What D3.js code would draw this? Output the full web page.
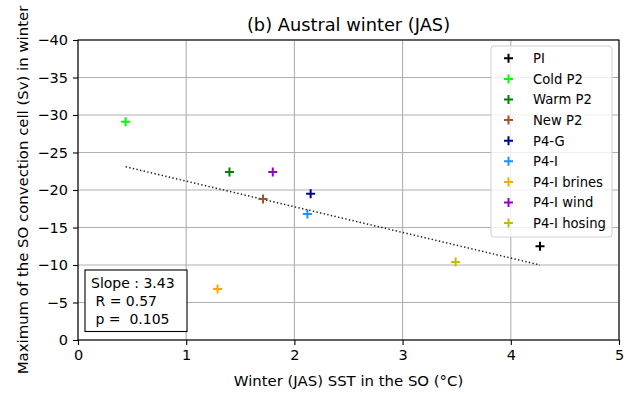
<!DOCTYPE html>
<html><head><meta charset="utf-8">
<script src="https://cdn.jsdelivr.net/npm/d3@7"></script>
<style>body{margin:0;background:#fff}svg{font-family:"DejaVu Sans",sans-serif}</style>
</head><body><svg id="c" width="635" height="394"></svg>
<script>
const names = ["PI","Cold P2","Warm P2","New P2","P4-G","P4-I","P4-I brines","P4-I wind","P4-I hosing"];
const colors = ["#000000","#00ff00","#008000","#a0522d","#00008b","#1e90ff","#ffa500","#9400d3","#bfbf00"];
const sst = [4.27, 0.44, 1.40, 1.71, 2.15, 2.12, 1.29, 1.80, 3.49];
const cell = [-12.5, -29.1, -22.4, -18.8, -19.5, -16.8, -6.8, -22.4, -10.4];
const xTicks = [0,1,2,3,4,5];
const yTicks = [0,-5,-10,-15,-20,-25,-30,-35,-40];
const fitLine = [[0.44, -23.1],[4.27, -10.0]];
const statsText = ["Slope : 3.43"," R = 0.57"," p =  0.105"];

const svg = d3.select("#c");
const L=78,R=619,T=40,B=340;
const x = d3.scaleLinear().domain([0,5]).range([L,R]);
const y = d3.scaleLinear().domain([0,-40]).range([B,T]);

// grid
svg.append("g").selectAll("line").data(xTicks).join("line")
  .attr("x1",d=>x(d)).attr("x2",d=>x(d)).attr("y1",T).attr("y2",B)
  .attr("stroke","#b0b0b0").attr("stroke-width",1.1);
svg.append("g").selectAll("line").data(yTicks).join("line")
  .attr("y1",d=>y(d)).attr("y2",d=>y(d)).attr("x1",L).attr("x2",R)
  .attr("stroke","#b0b0b0").attr("stroke-width",1.1);

// axes
const xa = svg.append("g").attr("transform",`translate(0,${B})`)
  .call(d3.axisBottom(x).tickValues(xTicks).tickSize(5).tickPadding(5).tickFormat(d3.format("d")));
const ya = svg.append("g").attr("transform",`translate(${L},0)`)
  .call(d3.axisLeft(y).tickValues(yTicks).tickSize(5).tickPadding(5).tickFormat(d=>d<0?"\u2212"+Math.abs(d):d));
[xa,ya].forEach(a=>{a.select(".domain").remove();a.selectAll("text").attr("font-size",14.5).attr("fill","#000").attr("font-family","DejaVu Sans");a.selectAll("line").attr("stroke","#000").attr("stroke-width",1.1)});
svg.append("rect").attr("x",L).attr("y",T).attr("width",R-L).attr("height",B-T)
  .attr("fill","none").attr("stroke","#000").attr("stroke-width",1.1);

// fit line
svg.append("path").attr("d",d3.line().x(d=>x(d[0])).y(d=>y(d[1]))(fitLine))
  .attr("stroke","#222").attr("stroke-width",1.5).attr("stroke-dasharray","1.4,2.3").attr("fill","none");

// points
const plus = (g,cx,cy,c)=>{
  g.append("path").attr("d",`M${cx-4.5},${cy}H${cx+4.5}M${cx},${cy-4.5}V${cy+4.5}`)
   .attr("stroke",c).attr("stroke-width",2);
};
const pg = svg.append("g");
names.forEach((n,i)=>plus(pg,x(sst[i]),y(cell[i]),colors[i]));

// legend
const lg = svg.append("g");
lg.append("rect").attr("x",491).attr("y",46).attr("width",121).attr("height",191).attr("rx",3)
  .attr("fill","#fff").attr("fill-opacity",0.8).attr("stroke","#d0d0d0");
names.forEach((n,i)=>{
  const yy = 58.3 + i*20.6;
  plus(lg,508.5,yy,colors[i]);
  lg.append("text").attr("x",533).attr("y",yy+4.8).attr("font-size",13.2).text(n);
});

// stats box
svg.append("rect").attr("x",85).attr("y",270).attr("width",102).attr("height",61.5)
  .attr("fill","#fff").attr("stroke","#000").attr("stroke-width",1.1);
statsText.forEach((t,i)=>svg.append("text").attr("x",91).attr("y",287.5+i*18)
  .attr("font-size",14).attr("xml:space","preserve").style("white-space","pre").text(t));

// titles
svg.append("text").attr("x",(L+R)/2).attr("y",31).attr("text-anchor","middle").attr("font-size",17.8)
  .text("(b) Austral winter (JAS)");
svg.append("text").attr("x",(L+R)/2).attr("y",386).attr("text-anchor","middle").attr("font-size",14.9)
  .text("Winter (JAS) SST in the SO (\u00b0C)");
svg.append("text").attr("transform",`translate(28,190) rotate(-90)`).attr("text-anchor","middle").attr("font-size",14.9)
  .text("Maximum of the SO convection cell (Sv) in winter");
</script></body></html>
